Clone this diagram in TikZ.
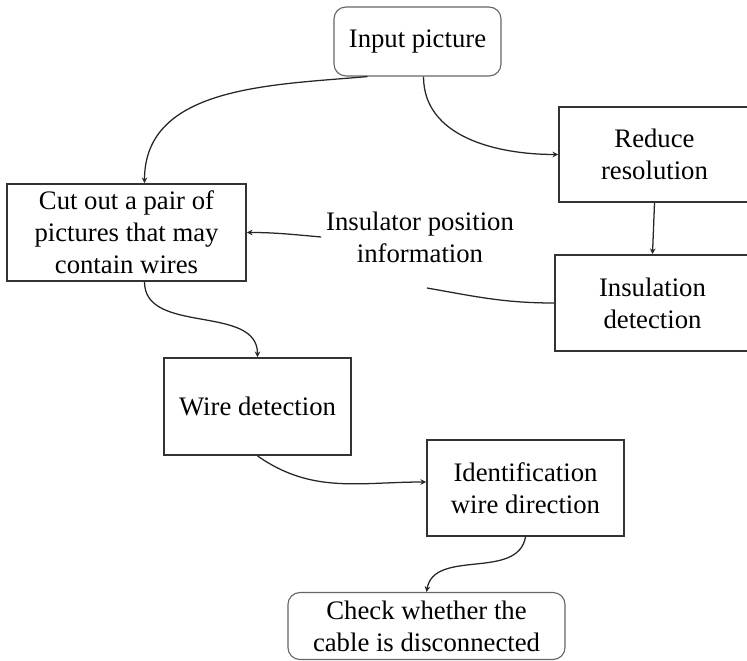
\documentclass[tikz,border=0pt]{standalone}
\usepackage{fontspec}
\setmainfont{Liberation Serif}
\usetikzlibrary{arrows.meta}

\tikzset{
  stepbox/.style={draw=black!80, line width=1.3pt, align=center, inner sep=0pt},
  endbox/.style={draw=black!60, line width=0.8pt, rounded corners=0.3cm, align=center, inner sep=0pt},
  flow/.style={draw=black!85, line width=0.9pt, -{Stealth[length=4pt,width=4pt]}},
  plain/.style={draw=black!85, line width=0.9pt}
}

\begin{document}
\begin{tikzpicture}[x=0.025cm,y=-0.025cm,font=\fontsize{19}{22.7}\selectfont]
\useasboundingbox (0,0) rectangle (747,661);

%Boxes
  \node[endbox, minimum width=4.175cm, minimum height=1.725cm] (input) at (417.5,41.5) {Input picture};
  \node[stepbox, minimum width=4.775cm, minimum height=2.375cm] (reduce) at (654.5,154.5) {Reduce\\resolution};
  \node[stepbox, minimum width=4.875cm, minimum height=2.4cm] (insul) at (652.5,303) {Insulation\\detection};
  \node[stepbox, minimum width=5.975cm, minimum height=2.425cm] (cut) at (126.5,232.5) {Cut out a pair of\\pictures that may\\contain wires};
  \node[stepbox, minimum width=4.675cm, minimum height=2.425cm] (wire) at (257.5,406.5) {Wire detection};
  \node[stepbox, minimum width=4.925cm, minimum height=2.4cm] (ident) at (525.5,488) {Identification\\wire direction};
  \node[endbox, minimum width=6.925cm, minimum height=1.675cm] (check) at (426.5,626) {Check whether the\\cable is disconnected};
  %Position label
  \node[align=center] (info) at (420,237) {Insulator position\\information};
  \coordinate (infoend) at (427,288);

%Connectors
  \draw[flow] ([xshift=-1.25cm]input.south) to[out=185,in=90] ([xshift=0.45cm]cut.north);
  \draw[flow] ([xshift=0.15cm]input.south) to[out=-90,in=180] (reduce.west);
  \draw[flow] (reduce.south) -- (insul.north);
  \draw[plain] (insul.west) to[out=180,in=-10] (infoend);
  \draw[flow] (info.west) to[out=175,in=0] (cut.east);
  \draw[flow] ([xshift=0.45cm]cut.south) to[out=-90,in=90] (wire.north);
  \draw[flow] (wire.south) to[out=-35,in=180] ([yshift=0.15cm]ident.west);
  \draw[flow] (ident.south) to[out=-100,in=80] (check.north);
\end{tikzpicture}
\end{document}
